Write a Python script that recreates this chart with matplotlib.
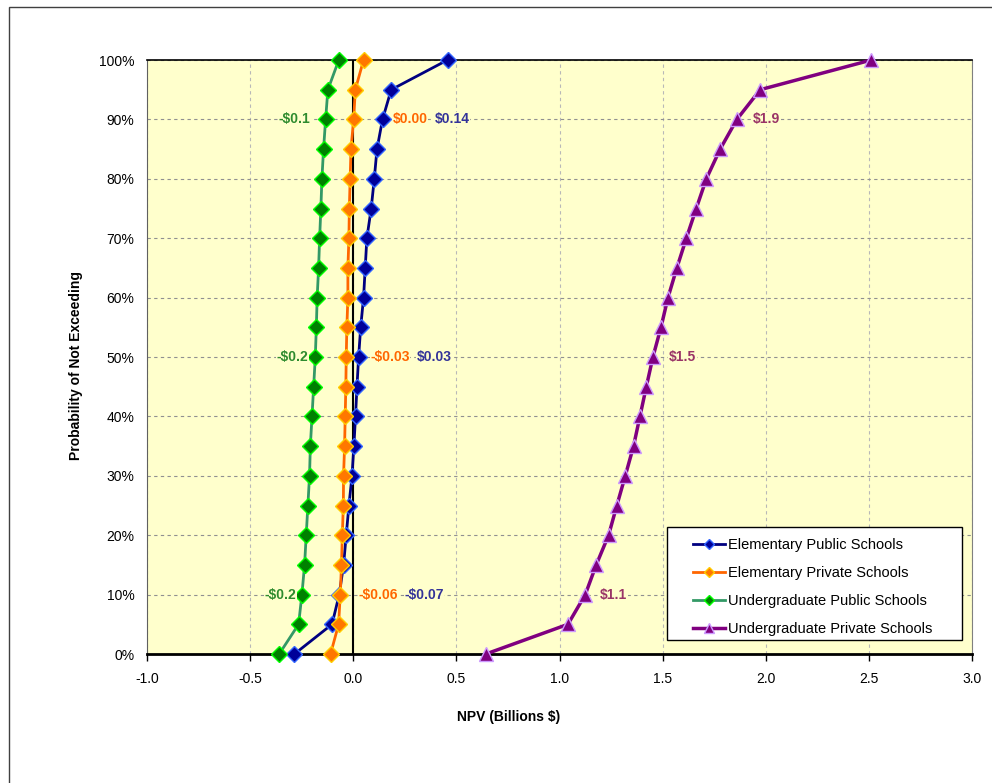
import matplotlib.pyplot as plt
from matplotlib.patches import Rectangle
from matplotlib.ticker import FuncFormatter

plt.rcParams['font.family'] = ['Liberation Sans', 'DejaVu Sans']

# probability of not exceeding (%)
probs = [0, 5, 10, 15, 20, 25, 30, 35, 40, 45, 50, 55, 60, 65, 70, 75, 80, 85, 90, 95, 100]

# NPV (billions $)
elem_public = [-0.285, -0.103, -0.068, -0.047, -0.034, -0.021, -0.006, 0.003, 0.011, 0.018,
               0.026, 0.036, 0.050, 0.058, 0.066, 0.087, 0.102, 0.115, 0.142, 0.184, 0.457]
elem_private = [-0.110, -0.071, -0.063, -0.057, -0.053, -0.048, -0.047, -0.042, -0.039, -0.036,
                -0.034, -0.031, -0.026, -0.026, -0.021, -0.019, -0.015, -0.011, 0.002, 0.010, 0.050]
ugrad_public = [-0.359, -0.265, -0.249, -0.236, -0.228, -0.220, -0.212, -0.208, -0.200, -0.192,
                -0.184, -0.179, -0.175, -0.168, -0.163, -0.157, -0.152, -0.144, -0.134, -0.123, -0.070]
ugrad_private = [0.643, 1.041, 1.125, 1.178, 1.238, 1.278, 1.319, 1.359, 1.390, 1.421,
                 1.453, 1.492, 1.526, 1.569, 1.615, 1.663, 1.712, 1.779, 1.860, 1.973, 2.512]

series_names = ['Elementary Public Schools', 'Elementary Private Schools',
                'Undergraduate Public Schools', 'Undergraduate Private Schools']

# data labels: (series index, probability, text)
labels = [
    (2, 90, '-$0.1'), (1, 90, '$0.00'), (0, 90, '$0.14'), (3, 90, '$1.9'),
    (2, 50, '-$0.2'), (1, 50, '-$0.03'), (0, 50, '$0.03'), (3, 50, '$1.5'),
    (2, 10, '-$0.2'), (1, 10, '-$0.06'), (0, 10, '-$0.07'), (3, 10, '$1.1'),
]
# pixel offsets of the labels from their points
label_dx = [-15, 39, 52, 16, -7, 24, 58, 16, -6, 18, 65, 15]

styles = [
    dict(color='#000080', marker='D', mfc='#000099', mec='#3366FF', ms=8, lw=2),
    dict(color='#FF6600', marker='D', mfc='#FF7700', mec='#FFCC00', ms=8, lw=2),
    dict(color='#339966', marker='D', mfc='#008000', mec='#00FF00', ms=8, lw=2),
    dict(color='#800080', marker='^', mfc='#800080', mec='#CC99FF', ms=10, lw=2.5),
]
label_colors = ['#333399', '#FF6600', '#2E8B2E', '#993366']

fig = plt.figure(figsize=(9.92, 7.83), dpi=100)
ax = fig.add_axes([147 / 992, 1 - 654 / 783, 825 / 992, 594 / 783])
ax.set_facecolor('#FFFFCC')

all_series = [elem_public, elem_private, ugrad_public, ugrad_private]
handles = []
for vals, name, st in zip(all_series, series_names, styles):
    h, = ax.plot(vals, probs, label=name, mew=1, zorder=3, clip_on=False, **st)
    handles.append(h)

ax.axvline(0, color='black', lw=1.5, zorder=2)

for (si, p, txt), dx in zip(labels, label_dx):
    x = all_series[si][probs.index(p)]
    ax.annotate(txt, (x, p), xytext=(dx, 0), textcoords='offset pixels',
                ha='right' if dx < 0 else 'left', va='center',
                fontsize=10, fontweight='bold', color=label_colors[si], zorder=4,
                bbox=dict(facecolor='#FFFFCC', edgecolor='none', pad=0.5))

ax.set_xlim(-1.0, 3.0)
ax.set_ylim(0, 100)
ax.set_xticks([-1.0, -0.5, 0.0, 0.5, 1.0, 1.5, 2.0, 2.5, 3.0])
ax.set_yticks(range(0, 101, 10))
ax.xaxis.set_major_formatter(FuncFormatter(lambda v, p: f'{v:.1f}'))
ax.yaxis.set_major_formatter(FuncFormatter(lambda v, p: f'{v:.0f}%'))
ax.tick_params(axis='x', length=5, width=1, pad=8, labelsize=10)
ax.tick_params(axis='y', length=0, pad=9, labelsize=10)

ax.grid(True, axis='y', ls=(0, (3, 3)), color='#909090', lw=0.8)
ax.grid(True, axis='x', ls=(0, (3, 3)), color='#B8B8B8', lw=0.8)
ax.set_axisbelow(True)

ax.spines['top'].set_color('black')
ax.spines['top'].set_linewidth(1.2)
ax.spines['bottom'].set_color('black')
ax.spines['bottom'].set_linewidth(2)
ax.spines['left'].set_color('#606060')
ax.spines['right'].set_color('#808080')

# legend box
ax.add_patch(Rectangle((0.630, 0.0236), 0.358, 0.190, transform=ax.transAxes,
                       facecolor='white', edgecolor='black', lw=1, zorder=5))
ax.legend(handles=handles, loc='center', bbox_to_anchor=(0.807, 0.113), frameon=False,
          fontsize=10.5, handlelength=2.2, handletextpad=0.2, labelspacing=0.95,
          markerscale=0.7).set_zorder(6)

fig.text(509 / 992, 1 - 717 / 783, 'NPV (Billions $)', ha='center', va='center',
         fontsize=10, fontweight='bold')
fig.text(76 / 992, 1 - 366 / 783, 'Probability of Not Exceeding', ha='center', va='center',
         rotation=90, fontsize=10, fontweight='bold')

# outer chart border
fig.patches.append(Rectangle((9 / 992, -0.1), 1.2, 1.1 - 7 / 783, transform=fig.transFigure,
                             fill=False, edgecolor='#404040', lw=1))

fig.savefig('out.png', dpi=100)
